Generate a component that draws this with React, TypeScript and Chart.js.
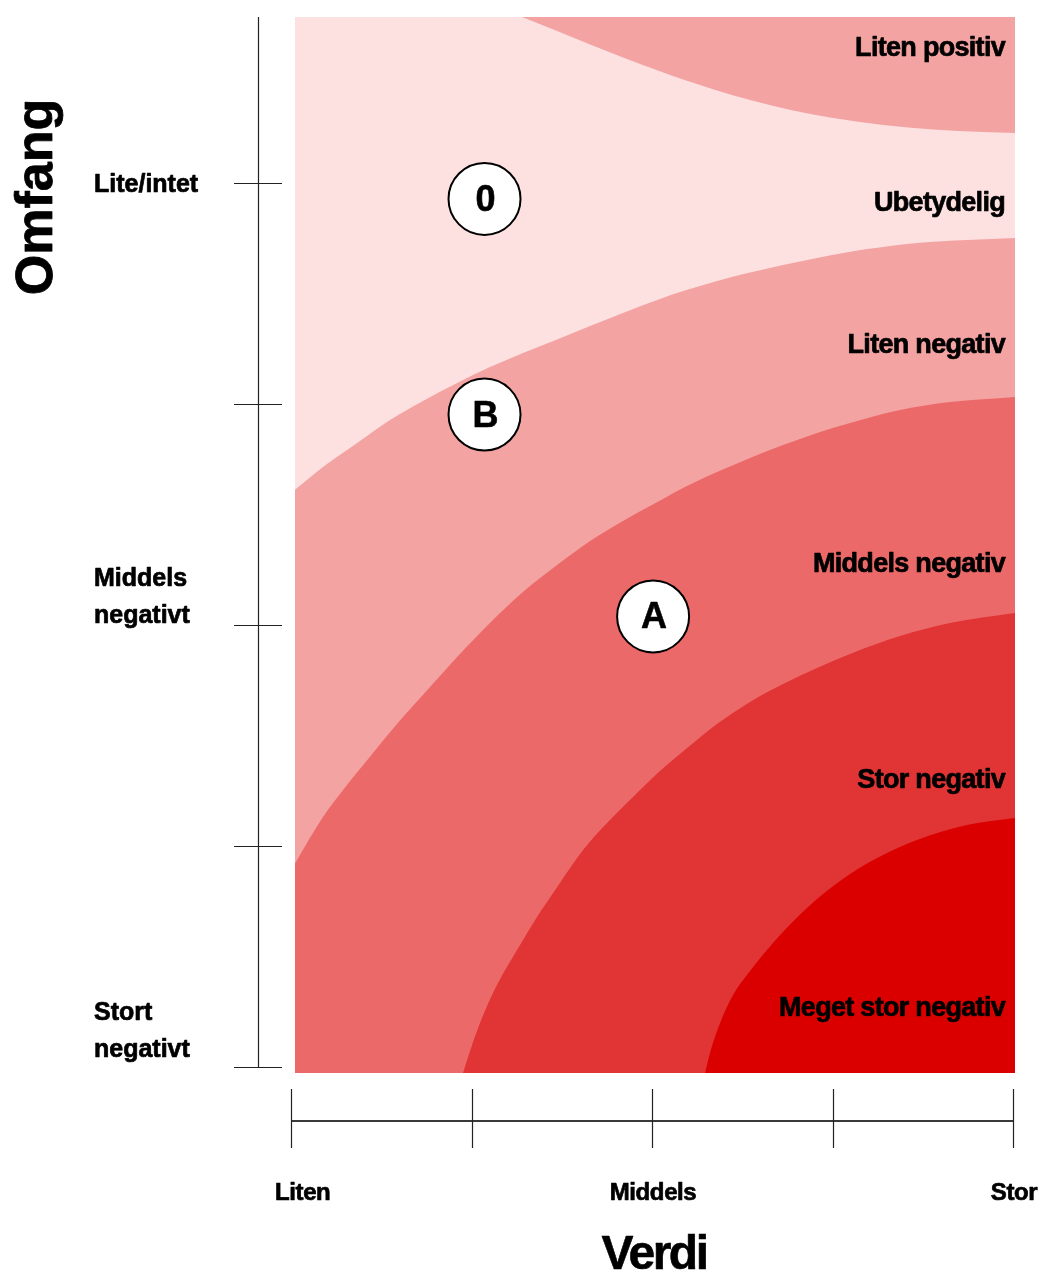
import React, { useEffect, useRef } from "react";
import { Chart, registerables } from "chart.js";

Chart.register(...registerables);

// Verdi (x): 0 = Liten, 2 = Middels, 4 = Stor
// Omfang (y): 0 = Stort negativt ... 4 = Lite/intet
const verdiTicks = [0, 1, 2, 3, 4];
const omfangTicks = [0, 1, 2, 3, 4];
const verdiLabels = [
  { v: 0, text: "Liten" },
  { v: 2, text: "Middels" },
  { v: 4, text: "Stor" },
];
const omfangLabels = [
  { v: 3.959, lines: ["Lite/intet"] },
  { v: 2.009, lines: ["Middels", "negativt"] },
  { v: 0.045, lines: ["Stort", "negativt"] },
];

// Band names (right side) and the y value of their baseline
const bandNames = ["Liten positiv", "Ubetydelig", "Liten negativ", "Middels negativ", "Stor negativ", "Meget stor negativ"];
const bandNameY = [4.575, 3.873, 3.231, 2.24, 1.262, 0.231];

// Boundary curves [verdi, omfang]
const grenseLitenPositiv: [number, number][] = [
  [0, 5.213], [0.604, 4.986], [1.047, 4.828], [1.28, 4.751], [1.474, 4.688], [1.657, 4.627],
  [1.839, 4.568], [2.044, 4.505], [2.172, 4.468], [2.36, 4.419], [2.543, 4.376], [2.781, 4.328],
  [3.003, 4.294], [3.28, 4.262], [3.557, 4.242], [3.834, 4.231], [4.011, 4.226],
];
const grenseLitenNegativ: [number, number][] = [
  [0, 2.597], [0.177, 2.715], [0.366, 2.824], [0.548, 2.928], [0.731, 3.014], [0.92, 3.095],
  [1.102, 3.167], [1.285, 3.231], [1.474, 3.292], [1.657, 3.353], [1.839, 3.412], [2.044, 3.475],
  [2.172, 3.511], [2.36, 3.557], [2.543, 3.595], [2.726, 3.629], [2.914, 3.661], [3.191, 3.701],
  [3.468, 3.729], [3.745, 3.742], [4.011, 3.751],
];
const grenseMiddelsNegativ: [number, number][] = [
  [0, 0.891], [0.177, 1.131], [0.288, 1.253], [0.454, 1.421], [0.587, 1.552], [0.77, 1.719],
  [0.92, 1.855], [1.102, 2.009], [1.285, 2.149], [1.474, 2.271], [1.657, 2.38], [1.839, 2.471],
  [1.989, 2.538], [2.172, 2.62], [2.36, 2.692], [2.543, 2.756], [2.726, 2.814], [2.914, 2.869],
  [3.097, 2.914], [3.374, 2.973], [3.651, 3.009], [4.011, 3.032],
];
const grenseStorNegativ: [number, number][] = [
  [0, -2.5], [0.5, -1.2], [0.8, -0.45], [0.909, -0.149], [0.953, -0.027], [1.003, 0.1],
  [1.058, 0.222], [1.141, 0.371], [1.252, 0.529], [1.363, 0.679], [1.474, 0.814], [1.618, 0.982],
  [1.751, 1.104], [1.895, 1.222], [2.044, 1.339], [2.249, 1.48], [2.36, 1.552], [2.543, 1.652],
  [2.726, 1.733], [2.914, 1.805], [3.097, 1.869], [3.374, 1.95], [3.651, 2.009], [4.011, 2.054],
];
const grenseMegetStorNegativ: [number, number][] = [
  [0, -3.5], [1.5, -1.6], [2.1, -0.6], [2.266, -0.127], [2.294, -0.027], [2.321, 0.063],
  [2.377, 0.199], [2.449, 0.326], [2.543, 0.435], [2.637, 0.53], [2.765, 0.645], [2.914, 0.76],
  [3.097, 0.873], [3.28, 0.959], [3.468, 1.027], [3.745, 1.095], [4.011, 1.127],
];

// Marked cases
const caseLabels = ["0", "B", "A"];
const caseVerdi = [1.072, 1.072, 2.006];
const caseOmfang = [3.928, 2.952, 2.039];

const colors = {
  ubetydelig: "#FDE1E1",
  liten: "#F4A3A3",
  middels: "#EC6969",
  stor: "#E13434",
  megetStor: "#DA0000",
};

const FONT = '"Liberation Sans", Arial, Helvetica, sans-serif';

const toPts = (arr: [number, number][]) => arr.map(([x, y]) => ({ x, y }));

function heavyText(ctx: CanvasRenderingContext2D, text: string, x: number, y: number, stroke = 0.7) {
  ctx.fillText(text, x, y);
  if (stroke > 0) {
    ctx.lineWidth = stroke;
    ctx.strokeStyle = "#000";
    ctx.lineJoin = "round";
    ctx.strokeText(text, x, y);
  }
}

const overlayPlugin = {
  id: "overlay",
  afterDraw(chart: any) {
    const { ctx, chartArea: ca, scales } = chart;
    const xs = scales.x;
    const ys = scales.y;
    ctx.save();

    // Left (Omfang) axis
    const ax = ca.left - 37;
    ctx.strokeStyle = "#222";
    ctx.lineWidth = 1.2;
    ctx.beginPath();
    ctx.moveTo(ax + 0.5, ca.top);
    ctx.lineTo(ax + 0.5, ys.getPixelForValue(0) + 1);
    ctx.stroke();
    omfangTicks.forEach((v) => {
      const py = Math.round(ys.getPixelForValue(v)) + 0.5;
      ctx.beginPath();
      ctx.moveTo(ax - 24, py);
      ctx.lineTo(ax + 24, py);
      ctx.stroke();
    });

    // Bottom (Verdi) axis
    const by = ca.bottom + 48;
    ctx.strokeStyle = "#3a3a3a";
    ctx.lineWidth = 2;
    ctx.beginPath();
    ctx.moveTo(xs.getPixelForValue(0), by);
    ctx.lineTo(xs.getPixelForValue(4), by);
    ctx.stroke();
    ctx.strokeStyle = "#222";
    ctx.lineWidth = 1.2;
    verdiTicks.forEach((v) => {
      const px = Math.round(xs.getPixelForValue(v)) + 0.5;
      ctx.beginPath();
      ctx.moveTo(px, by - 32);
      ctx.lineTo(px, by + 27);
      ctx.stroke();
    });

    ctx.fillStyle = "#000";
    ctx.textBaseline = "alphabetic";

    // Verdi tick labels
    ctx.font = `bold 24px ${FONT}`;
    (ctx as any).letterSpacing = "-0.4px";
    verdiLabels.forEach((l, i) => {
      const px = xs.getPixelForValue(l.v);
      if (i === 0) {
        ctx.textAlign = "left";
        heavyText(ctx, l.text, px - 16, by + 79);
      } else {
        ctx.textAlign = "center";
        heavyText(ctx, l.text, px + 1, by + 79);
      }
    });

    // Omfang tick labels
    ctx.font = `bold 25px ${FONT}`;
    (ctx as any).letterSpacing = "0px";
    ctx.textAlign = "left";
    omfangLabels.forEach((l) => {
      const base = ys.getPixelForValue(l.v);
      const n = l.lines.length;
      l.lines.forEach((t, k) => {
        heavyText(ctx, t, 94, base - (n - 1 - k) * 37);
      });
    });

    // Band names
    ctx.font = `bold 27px ${FONT}`;
    (ctx as any).letterSpacing = "-0.7px";
    ctx.textAlign = "right";
    bandNames.forEach((name, i) => {
      heavyText(ctx, name, ca.right - 10, ys.getPixelForValue(bandNameY[i]));
    });
    (ctx as any).letterSpacing = "0px";

    // Case circles
    caseLabels.forEach((lab, i) => {
      const cx = xs.getPixelForValue(caseVerdi[i]);
      const cy = ys.getPixelForValue(caseOmfang[i]);
      ctx.beginPath();
      ctx.arc(cx, cy, 36, 0, Math.PI * 2);
      ctx.fillStyle = "#fff";
      ctx.fill();
      ctx.strokeStyle = "#000";
      ctx.lineWidth = 2;
      ctx.stroke();
      ctx.fillStyle = "#000";
      ctx.font = `bold 36px ${FONT}`;
      ctx.textAlign = "center";
      ctx.textBaseline = "middle";
      heavyText(ctx, lab, cx + 1, cy + 2, 0.6);
    });
    ctx.textBaseline = "alphabetic";

    // Axis titles
    ctx.font = `bold 48px ${FONT}`;
    ctx.textAlign = "center";
    (ctx as any).letterSpacing = "-2.5px";
    heavyText(ctx, "Verdi", xs.getPixelForValue(2) + 2, by + 148, 0.6);
    (ctx as any).letterSpacing = "0px";

    ctx.save();
    ctx.translate(52, 197);
    ctx.rotate(-Math.PI / 2);
    ctx.font = `bold 52px ${FONT}`;
    ctx.textAlign = "center";
    heavyText(ctx, "Omfang", 0, 0, 0.8);
    ctx.restore();

    ctx.restore();
  },
};

export default function App() {
  const ref = useRef<HTMLCanvasElement | null>(null);

  useEffect(() => {
    if (!ref.current) return;
    const band = (data: [number, number][], fill: string, color: string, order: number) => ({
      data: toPts(data),
      fill,
      backgroundColor: color,
      borderWidth: 0,
      borderColor: color,
      pointRadius: 0,
      cubicInterpolationMode: "monotone" as const,
      order,
    });
    const chart = new Chart(ref.current, {
      type: "line",
      data: {
        datasets: [
          band([[0, 6], [4.2, 6]], "start", colors.ubetydelig, 6),
          band(grenseLitenPositiv, "end", colors.liten, 5),
          band(grenseLitenNegativ, "start", colors.liten, 4),
          band(grenseMiddelsNegativ, "start", colors.middels, 3),
          band(grenseStorNegativ, "start", colors.stor, 2),
          band(grenseMegetStorNegativ, "start", colors.megetStor, 1),
        ] as any,
      },
      options: {
        animation: false,
        responsive: false,
        devicePixelRatio: 1,
        events: [],
        layout: { padding: { left: 295, top: 17, right: 24, bottom: 202 } },
        scales: {
          x: { type: "linear", min: 0.022, max: 4.011, display: false },
          y: { type: "linear", min: -0.027, max: 4.751, display: false },
        },
        plugins: {
          legend: { display: false },
          tooltip: { enabled: false },
        },
      },
      plugins: [overlayPlugin],
    });
    return () => chart.destroy();
  }, []);

  return (
    <div style={{ position: "absolute", left: 0, top: 0, width: 1039, height: 1275, background: "#fff" }}>
      <canvas ref={ref} width={1039} height={1275} style={{ display: "block" }} />
    </div>
  );
}
